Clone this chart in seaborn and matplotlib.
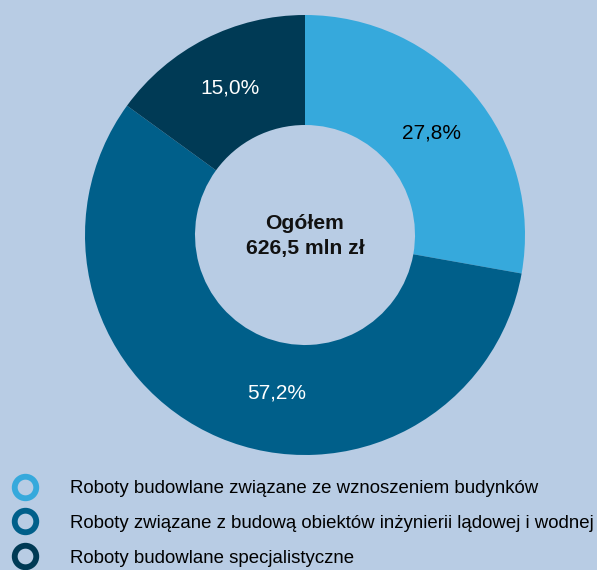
import numpy as np
import matplotlib.pyplot as plt
import seaborn as sns
from matplotlib.lines import Line2D

categories = [
    'Roboty budowlane związane ze wznoszeniem budynków',
    'Roboty związane z budową obiektów inżynierii lądowej i wodnej',
    'Roboty budowlane specjalistyczne',
]
shares = [27.8, 57.2, 15.0]
share_labels = ['27,8%', '57,2%', '15,0%']
colors = ['#36a9dc', '#005f8a', '#003a55']
label_colors = ['black', 'white', 'white']
center_text = 'Ogółem\n626,5 mln zł'

bg = '#b8cce4'

sns.set_style('white')
plt.rcParams['font.family'] = ['Liberation Sans', 'DejaVu Sans']
plt.rcParams['text.color'] = 'black'

fig = plt.figure(figsize=(5.97, 5.70), dpi=100, facecolor=bg)
ax = fig.add_axes([85 / 597, 115 / 570, 440 / 597, 440 / 570])
ax.set_facecolor(bg)

wedges, texts = ax.pie(shares, colors=colors, startangle=90, counterclock=False,
                       labels=share_labels, labeldistance=0.75,
                       wedgeprops=dict(width=0.5, linewidth=0),
                       textprops=dict(fontsize=15, ha='center', va='center'))
for t, c in zip(texts, label_colors):
    t.set_color(c)
# the big slice's label sits closer to the bottom, as in the original
ang = np.deg2rad(-100)
texts[1].set_position((0.73 * np.cos(ang), 0.73 * np.sin(ang)))
texts[0].set_position((0.74 * np.cos(np.deg2rad(39)), 0.74 * np.sin(np.deg2rad(39))))

ax.set_aspect('equal')
ax.set_xlim(-1, 1)
ax.set_ylim(-1, 1)
ax.axis('off')

ax.text(0, -0.005, center_text, ha='center', va='center', fontsize=15.2,
        fontweight='bold', color='#111111', linespacing=1.4)

handles = [Line2D([], [], linestyle='none', marker='o', markersize=15.5,
                  markerfacecolor='none', markeredgecolor=c, markeredgewidth=4.2)
           for c in colors]
fig.legend(handles, categories, loc='upper left', bbox_to_anchor=(0.0, (570 - 480) / 570),
           frameon=False, fontsize=13.4, handlelength=2.69, handletextpad=1.07,
           labelspacing=0.96, borderaxespad=0, borderpad=0, labelcolor='black')

fig.savefig('out.png', dpi=100, facecolor=bg)
